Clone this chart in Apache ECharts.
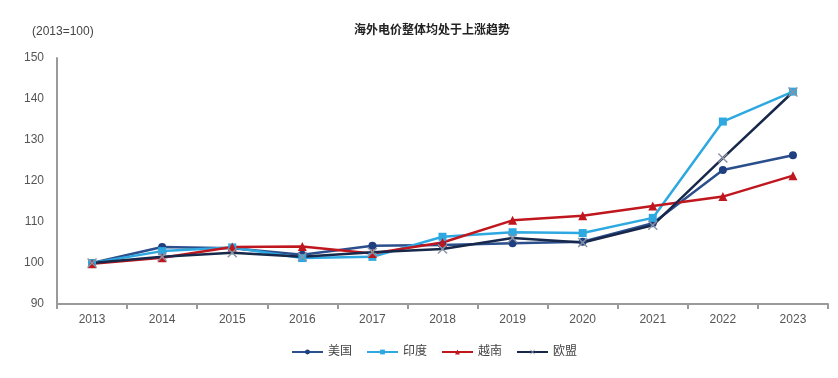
<!DOCTYPE html>
<html>
<head>
<meta charset="utf-8">
<script src="https://cdn.jsdelivr.net/npm/echarts@6/dist/echarts.min.js"></script>
<style>
    html, body { margin: 0; padding: 0; background: #fff; }
    #chart { width: 838px; height: 378px; }
</style>
</head>
<body>
<div id="chart"></div>
<script>
// years on the x axis
const years = ["2013", "2014", "2015", "2016", "2017", "2018", "2019", "2020", "2021", "2022", "2023"];

// electricity price index, 2013 = 100
const usa = [100, 103.9, 103.6, 102.0, 104.2, 104.4, 104.8, 105.2, 109.7, 122.7, 126.3];
const india = [100, 102.9, 103.8, 101.2, 101.5, 106.4, 107.5, 107.3, 111.0, 134.5, 141.8];
const vietnam = [99.8, 101.3, 103.9, 104.0, 102.3, 105.0, 110.4, 111.5, 113.9, 116.2, 121.3];
const eu = [100, 101.5, 102.5, 101.5, 102.6, 103.4, 106.1, 105.0, 109.2, 125.6, 141.7];

const yTicks = [90, 100, 110, 120, 130, 140, 150];

const fontFamily = "'Liberation Sans', Arial, 'Noto Sans CJK SC', sans-serif";
const crossPath = "path://M1,0L5,4L9,0L10,1L6,5L10,9L9,10L5,6L1,10L0,9L4,5L0,1Z";

const chart = echarts.init(document.getElementById("chart"));

function lineSeries(name, data, color, symbol, size, markerColor) {
    return {
        name: name,
        type: "line",
        data: data,
        symbol: symbol,
        symbolSize: size,
        showAllSymbol: true,
        lineStyle: { color: color, width: 2.5 },
        itemStyle: { color: markerColor || color },
        emphasis: { disabled: true },
    };
}

chart.setOption({
    animation: false,
    textStyle: { fontFamily: fontFamily },
    title: [
        {
            text: "海外电价整体均处于上涨趋势",
            left: 427,
            top: 20,
            textAlign: "center",
            textStyle: { fontSize: 12, fontWeight: "bold", color: "#222", fontFamily: fontFamily },
        },
        {
            text: "(2013=100)",
            left: 27,
            top: 21,
            textStyle: { fontSize: 12, fontWeight: "normal", color: "#444", fontFamily: fontFamily },
        },
    ],
    legend: {
        bottom: 15,
        left: 286,
        itemWidth: 31,
        itemHeight: 6,
        itemGap: 14,
        textStyle: { fontSize: 12, color: "#444", fontFamily: fontFamily },
        data: ["美国", "印度", "越南", "欧盟"],
    },
    grid: { left: 57, right: 10, top: 58, bottom: 74 },
    xAxis: {
        type: "category",
        data: years,
        boundaryGap: true,
        axisLine: { lineStyle: { color: "#9a9a9a", width: 2 } },
        axisTick: { show: true, inside: false, length: 5, lineStyle: { color: "#9a9a9a", width: 2 } },
        axisLabel: { fontSize: 12, color: "#555", margin: 10 },
    },
    yAxis: {
        type: "value",
        min: yTicks[0],
        max: yTicks[yTicks.length - 1],
        interval: 10,
        axisLine: { show: true, lineStyle: { color: "#9a9a9a", width: 2 } },
        axisTick: { show: false },
        splitLine: { show: false },
        axisLabel: { fontSize: 12, color: "#555", margin: 13 },
    },
    series: [
        lineSeries("美国", usa, "#2a4f8c", "circle", 8, "#1f3f80"),
        lineSeries("印度", india, "#2ea8e0", "rect", 8),
        lineSeries("越南", vietnam, "#c0161e", "triangle", 9),
        lineSeries("欧盟", eu, "#17284a", crossPath, 10, "#8a93a3"),
    ],
});
</script>
</body>
</html>
